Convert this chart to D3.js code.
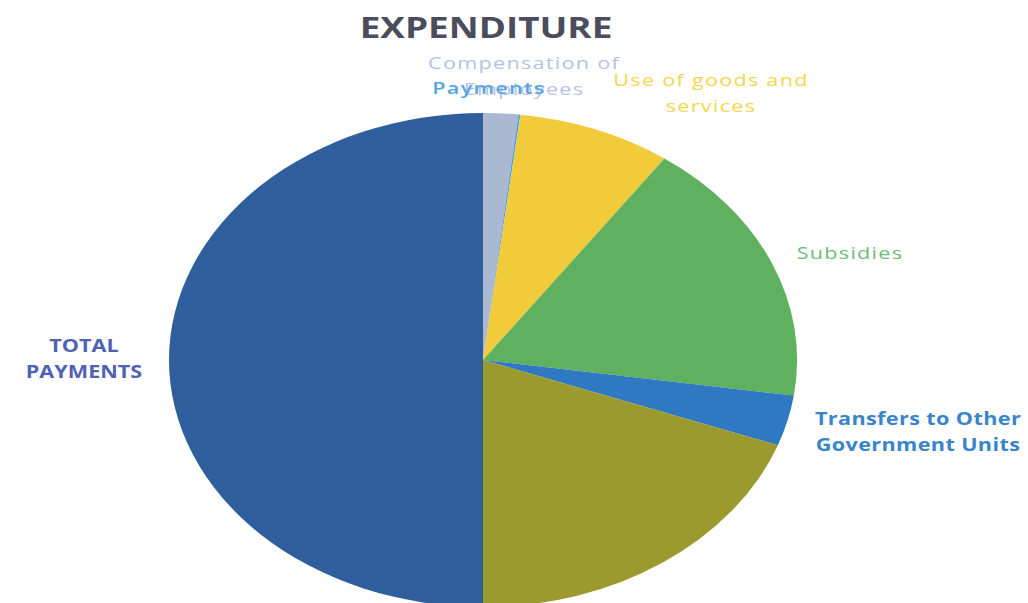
<!DOCTYPE html>
<html>
<head>
<meta charset="utf-8">
<script src="https://cdn.jsdelivr.net/npm/d3@7"></script>
<style>
  body { margin: 0; background: #fff; }
  text { font-family: "Open Sans", sans-serif; }
</style>
</head>
<body>
<div id="chart"></div>
<script>
// data (percent of the whole pie)
var categories = ["Compensation of Employees", "Payments", "Use of goods and services",
                  "Subsidies", "Transfers to Other Government Units", "Other", "TOTAL PAYMENTS"];
var values = [1.8, 0.1, 7.9, 17.5, 3.3, 19.4, 50];
var colors = ["#aab8d2", "#4f9fe0", "#f1cb3a", "#5fb15f", "#2f78c2", "#9c9a2e", "#2f5e9c"];

var width = 1028, height = 603;
var cx = 483, cy = 360, rx = 314, ry = 247;
// the whole picture is stretched sideways, text included
var stretch = rx / ry;

var svg = d3.select("#chart")
  .append("svg")
    .attr("width", width)
    .attr("height", height);

// title
svg.append("g")
  .attr("transform", "translate(486,38) scale(" + stretch + ",1)")
  .append("text")
    .attr("text-anchor", "middle")
    .style("font-size", "29px")
    .style("font-weight", "bold")
    .style("fill", "#4b4c5c")
    .text("EXPENDITURE");

var pie = d3.pie().sort(null).value(function(d) { return d; });
var arc = d3.arc().innerRadius(0).outerRadius(1);

// unit circle squashed into the ellipse
var g = svg.append("g")
  .attr("transform", "translate(" + cx + "," + cy + ") scale(" + rx + "," + ry + ")");

g.selectAll("path")
  .data(pie(values))
  .enter()
  .append("path")
    .attr("d", arc)
    .attr("fill", function(d, i) { return colors[i]; });

// slice labels (placed like the original)
var labels = [
  {lines: ["Compensation of", "Employees"], x: 524, y: 69, color: "#b7c1e4", weight: "normal", spacing: "1px"},
  {lines: ["Payments"], x: 489, y: 94, color: "#55a4e6", weight: "600", spacing: "1px"},
  {lines: ["Use of goods and", "services"], x: 711, y: 86, color: "#f4d64a", weight: "normal", spacing: "1px"},
  {lines: ["Subsidies"], x: 850, y: 259, color: "#6cbd78", weight: "normal", spacing: "1px"},
  {lines: ["Transfers to Other", "Government Units"], x: 918, y: 425, color: "#3a84cc", weight: "bold", spacing: "0.3px"},
  {lines: ["TOTAL", "PAYMENTS"], x: 84, y: 352, color: "#4f62b5", weight: "bold", spacing: "0px"}
];

labels.forEach(function(l) {
  var t = svg.append("g")
    .attr("transform", "translate(" + l.x + "," + l.y + ") scale(" + stretch + ",1)")
    .append("text")
      .attr("text-anchor", "middle")
      .style("font-size", "17px")
      .style("font-weight", l.weight)
      .style("letter-spacing", l.spacing)
      .style("fill", l.color);
  l.lines.forEach(function(s, i) {
    t.append("tspan")
      .attr("x", 0)
      .attr("y", i * 26)
      .text(s);
  });
});
</script>
</body>
</html>
